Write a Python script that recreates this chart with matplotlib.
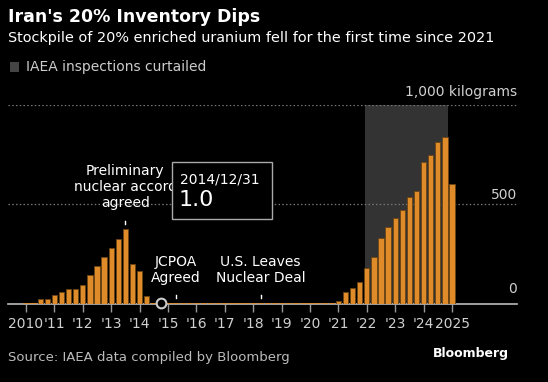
import matplotlib.pyplot as plt
import matplotlib.patches as mpatches
import numpy as np

# quarterly stockpile of 20% enriched uranium (kg), first bar at 2010.0
start_year = 2010.0
stockpile = [1, 3, 22, 25, 42, 57, 71, 72, 94, 146, 188, 232, 278, 323, 374, 197,
             163, 37,
             1, 1.0, 1, 1, 1, 1, 1, 1, 1, 1, 1, 1, 1, 1, 1, 1, 1, 1, 1, 1, 1, 1, 1, 1, 1, 1,
             13, 59, 79, 110, 179, 236, 329, 384, 433, 469, 535, 565, 712, 750, 813, 838, 604]
years = list(range(2010, 2026))
year_labels = ['2010'] + ["'%02d" % (y % 100) for y in years[1:-1]] + ['2025']
curtailed = (2021.94, 2024.86)
event_labels = ["Preliminary\nnuclear accord\nagreed", "JCPOA\nAgreed", "U.S. Leaves\nNuclear Deal"]
event_x = [2013.5, 2015.27, 2018.26]
tooltip_date = "2014/12/31"
tooltip_value = 1.0
tooltip_x = 2014.75

W, H = 548, 382
BG = 'black'
ORANGE = '#df8b2a'

fig = plt.figure(figsize=(W / 100, H / 100), dpi=100, facecolor=BG)

def fx(px):
    return px / W

def fy(py):
    return 1 - py / H

# axes in pixel terms: x 8..517, baseline 303.5, top (1000) at 105
ax = fig.add_axes([fx(8), fy(303.5), (517 - 8) / W, (303.5 - 105) / H], facecolor=BG)
px_per_year = 28.4
ax.set_xlim(2010 - 18 / px_per_year, 2010 + (517 - 26) / px_per_year)
ax.set_ylim(0, 1000)

x = start_year + 0.25 * np.arange(len(stockpile))
ax.axvspan(curtailed[0], curtailed[1], ymin=0, ymax=1, color='#333333', lw=0, zorder=0)
for g in (500, 1000):
    ax.axhline(g, color='#777777', lw=0.9, ls=(0, (1.2, 1.8)), zorder=1)
# near-zero bars show as orange dashes on the baseline
edges = [ORANGE if v < 5 else '#6b4414' for v in stockpile]
ax.bar(x, stockpile, width=0.19, color=ORANGE, edgecolor=edges, linewidth=0.6, zorder=3)

for s in ['top', 'left', 'right']:
    ax.spines[s].set_visible(False)
ax.spines['bottom'].set_color('#bbbbbb')
ax.spines['bottom'].set_linewidth(1.2)
ax.spines['bottom'].set_zorder(2)
ax.set_yticks([])
ax.set_xticks(years)
ax.set_xticklabels(year_labels)
ax.tick_params(axis='x', colors='#999999', length=6, width=1, pad=4, labelsize=10,
               labelcolor='#d0d0d0')

ytr = ax.get_yaxis_transform()
ax.text(1.0, 510, '500', transform=ytr, ha='right', va='bottom', color='#d0d0d0', fontsize=10)
ax.text(1.0, 40, '0', transform=ytr, ha='right', va='bottom', color='#d0d0d0', fontsize=10)
ax.text(1.0, 1030, '1,000 kilograms', transform=ytr, ha='right', va='bottom',
        color='#d0d0d0', fontsize=10, clip_on=False)

# event annotations: small tick + label above
xtr = ax.get_xaxis_transform()
tick_spans = [(398, 415), (28, 43), (28, 43)]
label_y = [0.587, 0.169, 0.169]
for lab, ex, (y0, y1), ly in zip(event_labels, event_x, tick_spans, label_y):
    ax.plot([ex, ex], [y0, y1], color='white', lw=1, zorder=4, clip_on=False)
    ax.text(ex, ly, lab, transform=xtr, ha='center', va='center', color='white',
            fontsize=10, linespacing=1.15, zorder=4, clip_on=False)

# hover marker and tooltip
ax.plot(tooltip_x, tooltip_value, 'o', ms=7, mfc='black', mec='#cccccc', mew=1.5,
        zorder=5, clip_on=False)
fig.add_artist(mpatches.Rectangle((fx(172), fy(219)), 100 / W, 57 / H, transform=fig.transFigure,
                                  facecolor='black', edgecolor='#aaaaaa', lw=1, zorder=6))
fig.text(fx(180), fy(179), tooltip_date, ha='left', va='center', color='white', fontsize=10, zorder=7)
fig.text(fx(179), fy(200), '%.1f' % tooltip_value, ha='left', va='center', color='white',
         fontsize=16, zorder=7)

# title, subtitle, legend
fig.text(fx(8), fy(17), "Iran's 20% Inventory Dips", ha='left', va='center', color='white',
         fontsize=12.5, fontweight='bold')
fig.text(fx(8), fy(38), "Stockpile of 20% enriched uranium fell for the first time since 2021",
         ha='left', va='center', color='white', fontsize=10.4)
fig.add_artist(mpatches.Rectangle((fx(10), fy(72)), 9 / W, 10 / H, transform=fig.transFigure,
                                  facecolor='#444444', edgecolor='none'))
fig.text(fx(26), fy(67), 'IAEA inspections curtailed', ha='left', va='center',
         color='#cccccc', fontsize=10)

fig.text(fx(8), fy(357), 'Source: IAEA data compiled by Bloomberg', ha='left', va='center',
         color='#bbbbbb', fontsize=9.5)
fig.text(fx(509), fy(354), 'Bloomberg', ha='right', va='center', color='white',
         fontsize=9, fontweight='bold')

fig.savefig('out.png', dpi=100, facecolor=BG)
